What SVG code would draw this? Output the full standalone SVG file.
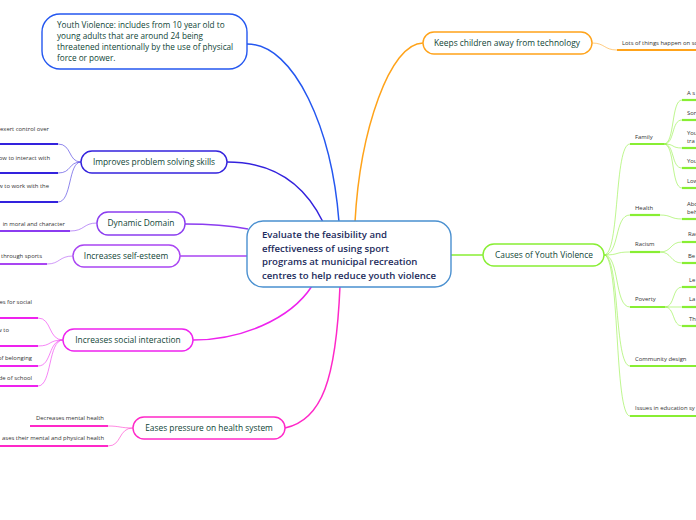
<svg xmlns="http://www.w3.org/2000/svg" width="696" height="520" viewBox="0 0 696 520">
<style>
.node{fill:#fff;stroke-width:1.4}
.t{font-family:"Open Sans","Liberation Sans",sans-serif;font-size:8.4px;fill:#0f4536}
.yv{font-size:8.2px}
.c{font-family:"Open Sans","Liberation Sans",sans-serif;font-size:9.6px;font-weight:600;fill:#1c2b5c}
.s{font-family:"Open Sans","Liberation Sans",sans-serif;font-size:5.9px;fill:#333}
.e{text-anchor:end}
.m{fill:none;stroke-width:1.5}
.sc{fill:none;stroke-width:1;opacity:.55}
.ul{fill:none;stroke-width:2.2}
</style>
<rect width="696" height="520" fill="#fff"/>
<g id="connectors">
  <path class="m" stroke="#2457f0" d="M247,44 C295,44 332,130 339,222"/>
  <path class="m" stroke="#3322dd" d="M227,162 C275,162 305,185 323,222"/>
  <path class="m" stroke="#ffa31a" d="M423,43 C390,43 360,130 355,222"/>
  <path class="m" stroke="#8b3cf0" d="M185,224 C215,224 232,226 248,229"/>
  <path class="m" stroke="#a945f2" d="M180,256 L248,256"/>
  <path class="m" stroke="#ee22ee" d="M193,340 C240,340 290,320 312,286"/>
  <path class="m" stroke="#ff28c8" d="M285,428 C322,420 336,380 340,286"/>
  <path class="m" stroke="#88ee33" d="M451,255 L483,255"/>
  <g stroke="#3322dd">
    <path class="sc" d="M58,144 C72,144 68,162 81,162"/>
    <path class="sc" d="M58,173 C72,173 68,162 81,162"/>
    <path class="sc" d="M58,202 C72,202 68,162 81,162"/>
    <path class="ul" d="M0,144 L58,144"/>
    <path class="ul" d="M0,173 L58,173"/>
    <path class="ul" d="M0,202 L58,202"/>
  </g>
  <g stroke="#8b3cf0">
    <path class="sc" d="M70,231 C85,231 83,223 97,223"/>
    <path class="ul" d="M0,231 L70,231"/>
  </g>
  <g stroke="#a945f2">
    <path class="sc" d="M47,264 C60,264 59,256 73,256"/>
    <path class="ul" d="M0,264 L47,264"/>
  </g>
  <g stroke="#ee22ee">
    <path class="sc" d="M38,318 C52,318 48,340 63,340"/>
    <path class="sc" d="M38,346 C52,346 48,340 63,340"/>
    <path class="sc" d="M38,366 C52,366 48,340 63,340"/>
    <path class="sc" d="M38,386 C52,386 48,340 63,340"/>
    <path class="ul" d="M0,318 L38,318"/>
    <path class="ul" d="M0,346 L38,346"/>
    <path class="ul" d="M0,366 L38,366"/>
    <path class="ul" d="M0,386 L38,386"/>
  </g>
  <g stroke="#ff28c8">
    <path class="sc" d="M108,426 C120,426 120,428 133,428"/>
    <path class="sc" d="M108,446 C122,446 118,428 133,428"/>
    <path class="ul" d="M30,426 L108,426"/>
    <path class="ul" d="M0,446 L108,446"/>
  </g>
  <g stroke="#ffa31a">
    <path class="sc" d="M592,43 C605,43 604,50 617,50"/>
    <path class="ul" d="M617,50 L696,50"/>
  </g>
  <g stroke="#88ee33">
    <path class="sc" d="M604,255 C620,255 614,144 630,144"/>
    <path class="sc" d="M604,255 C620,255 614,215 630,215"/>
    <path class="sc" d="M604,255 C620,255 614,252 630,252"/>
    <path class="sc" d="M604,255 C620,255 614,307 630,307"/>
    <path class="sc" d="M604,255 C620,255 614,366 630,366"/>
    <path class="sc" d="M604,255 C620,255 614,416 630,416"/>
    <path class="ul" d="M630,144 L664,144"/>
    <path class="ul" d="M630,215 L660,215"/>
    <path class="ul" d="M630,252 L660,252"/>
    <path class="ul" d="M630,307 L665,307"/>
    <path class="ul" d="M630,366 L696,366"/>
    <path class="ul" d="M630,416 L696,416"/>
    <path class="sc" d="M664,144 C675,144 671,100 682,100"/>
    <path class="sc" d="M664,144 C675,144 671,120 682,120"/>
    <path class="sc" d="M664,144 C675,144 671,148 682,148"/>
    <path class="sc" d="M664,144 C675,144 671,168 682,168"/>
    <path class="sc" d="M664,144 C675,144 671,188 682,188"/>
    <path class="ul" d="M682,100 L696,100"/>
    <path class="ul" d="M682,120 L696,120"/>
    <path class="ul" d="M682,148 L696,148"/>
    <path class="ul" d="M682,168 L696,168"/>
    <path class="ul" d="M682,188 L696,188"/>
    <path class="sc" d="M660,215 C672,215 670,219 682,219"/>
    <path class="ul" d="M682,219 L696,219"/>
    <path class="sc" d="M660,252 C672,252 670,242 682,242"/>
    <path class="sc" d="M660,252 C672,252 670,263 682,263"/>
    <path class="ul" d="M682,242 L696,242"/>
    <path class="ul" d="M682,263 L696,263"/>
    <path class="sc" d="M665,307 C675,307 672,287 682,287"/>
    <path class="sc" d="M665,307 L682,307"/>
    <path class="sc" d="M665,307 C675,307 672,326 682,326"/>
    <path class="ul" d="M682,287 L696,287"/>
    <path class="ul" d="M682,307 L696,307"/>
    <path class="ul" d="M682,326 L696,326"/>
  </g>
</g>
<g id="center">
  <rect class="node" x="247" y="221" width="204" height="66" rx="16" stroke="#4a90d0"/>
  <text class="c" x="262" y="238">Evaluate the feasibility and</text>
  <text class="c" x="262" y="252">effectiveness of using sport</text>
  <text class="c" x="262" y="265">programs at municipal recreation</text>
  <text class="c" x="262" y="279">centres to help reduce youth violence</text>
</g>
<g id="youth-violence">
  <rect class="node" x="42" y="14" width="205" height="55" rx="18" stroke="#2457f0"/>
  <text class="t yv" x="57" y="28">Youth Violence: includes from 10 year old to</text>
  <text class="t yv" x="57" y="39">young adults that are around 24 being</text>
  <text class="t yv" x="57" y="50">threatened intentionally by the use of physical</text>
  <text class="t yv" x="57" y="61">force or power.</text>
</g>
<g id="improves">
  <rect class="node" x="81" y="151" width="146" height="22" rx="11" stroke="#3322dd"/>
  <text class="t" x="154" y="165" text-anchor="middle">Improves problem solving skills</text>
  <text class="s e" x="49" y="131">exert control over</text>
  <text class="s e" x="50" y="160">ow to interact with</text>
  <text class="s e" x="49" y="188">w to work with the</text>
</g>
<g id="dynamic">
  <rect class="node" x="97" y="212" width="88" height="23" rx="11" stroke="#8b3cf0"/>
  <text class="t" x="141" y="226" text-anchor="middle">Dynamic Domain</text>
  <text class="s e" x="65" y="226">in moral and character</text>
</g>
<g id="self-esteem">
  <rect class="node" x="73" y="245" width="107" height="22" rx="11" stroke="#a945f2"/>
  <text class="t" x="126" y="259" text-anchor="middle">Increases self-esteem</text>
  <text class="s e" x="42" y="258">through sports</text>
</g>
<g id="social">
  <rect class="node" x="63" y="329" width="130" height="22" rx="11" stroke="#ee22ee"/>
  <text class="t" x="128" y="343" text-anchor="middle">Increases social interaction</text>
  <text class="s e" x="32" y="304">es for social</text>
  <text class="s e" x="9" y="332">w to</text>
  <text class="s e" x="32" y="360">of belonging</text>
  <text class="s e" x="32" y="380">de of school</text>
</g>
<g id="health">
  <rect class="node" x="133" y="417" width="152" height="22" rx="11" stroke="#ff28c8"/>
  <text class="t" x="209" y="431" text-anchor="middle">Eases pressure on health system</text>
  <text class="s e" x="104" y="420">Decreases mental health</text>
  <text class="s e" x="104" y="440">ases their mental and physical health</text>
</g>
<g id="technology">
  <rect class="node" x="423" y="32" width="169" height="22" rx="11" stroke="#ffa31a"/>
  <text class="t" x="507" y="46" text-anchor="middle">Keeps children away from technology</text>
  <text class="s" x="622" y="45">Lots of things happen on so</text>
</g>
<g id="causes">
  <rect class="node" x="483" y="244" width="121" height="22" rx="11" stroke="#88ee33"/>
  <text class="t" x="544" y="258" text-anchor="middle">Causes of Youth Violence</text>
  <text class="s" x="635" y="139">Family</text>
  <text class="s" x="635" y="210">Health</text>
  <text class="s" x="635" y="246">Racism</text>
  <text class="s" x="635" y="301">Poverty</text>
  <text class="s" x="635" y="361">Community design</text>
  <text class="s" x="635" y="410">Issues in education sy</text>
  <text class="s" x="687" y="95">A s</text>
  <text class="s" x="687" y="115">Sor</text>
  <text class="s" x="687" y="135">You</text>
  <text class="s" x="687" y="143">tra</text>
  <text class="s" x="687" y="163">You</text>
  <text class="s" x="687" y="183">Low</text>
  <text class="s" x="687" y="206">Abo</text>
  <text class="s" x="687" y="214">beh</text>
  <text class="s" x="688" y="236">Rac</text>
  <text class="s" x="688" y="258">Be</text>
  <text class="s" x="689" y="282">Le</text>
  <text class="s" x="689" y="301">La</text>
  <text class="s" x="689" y="321">Th</text>
</g>
</svg>
